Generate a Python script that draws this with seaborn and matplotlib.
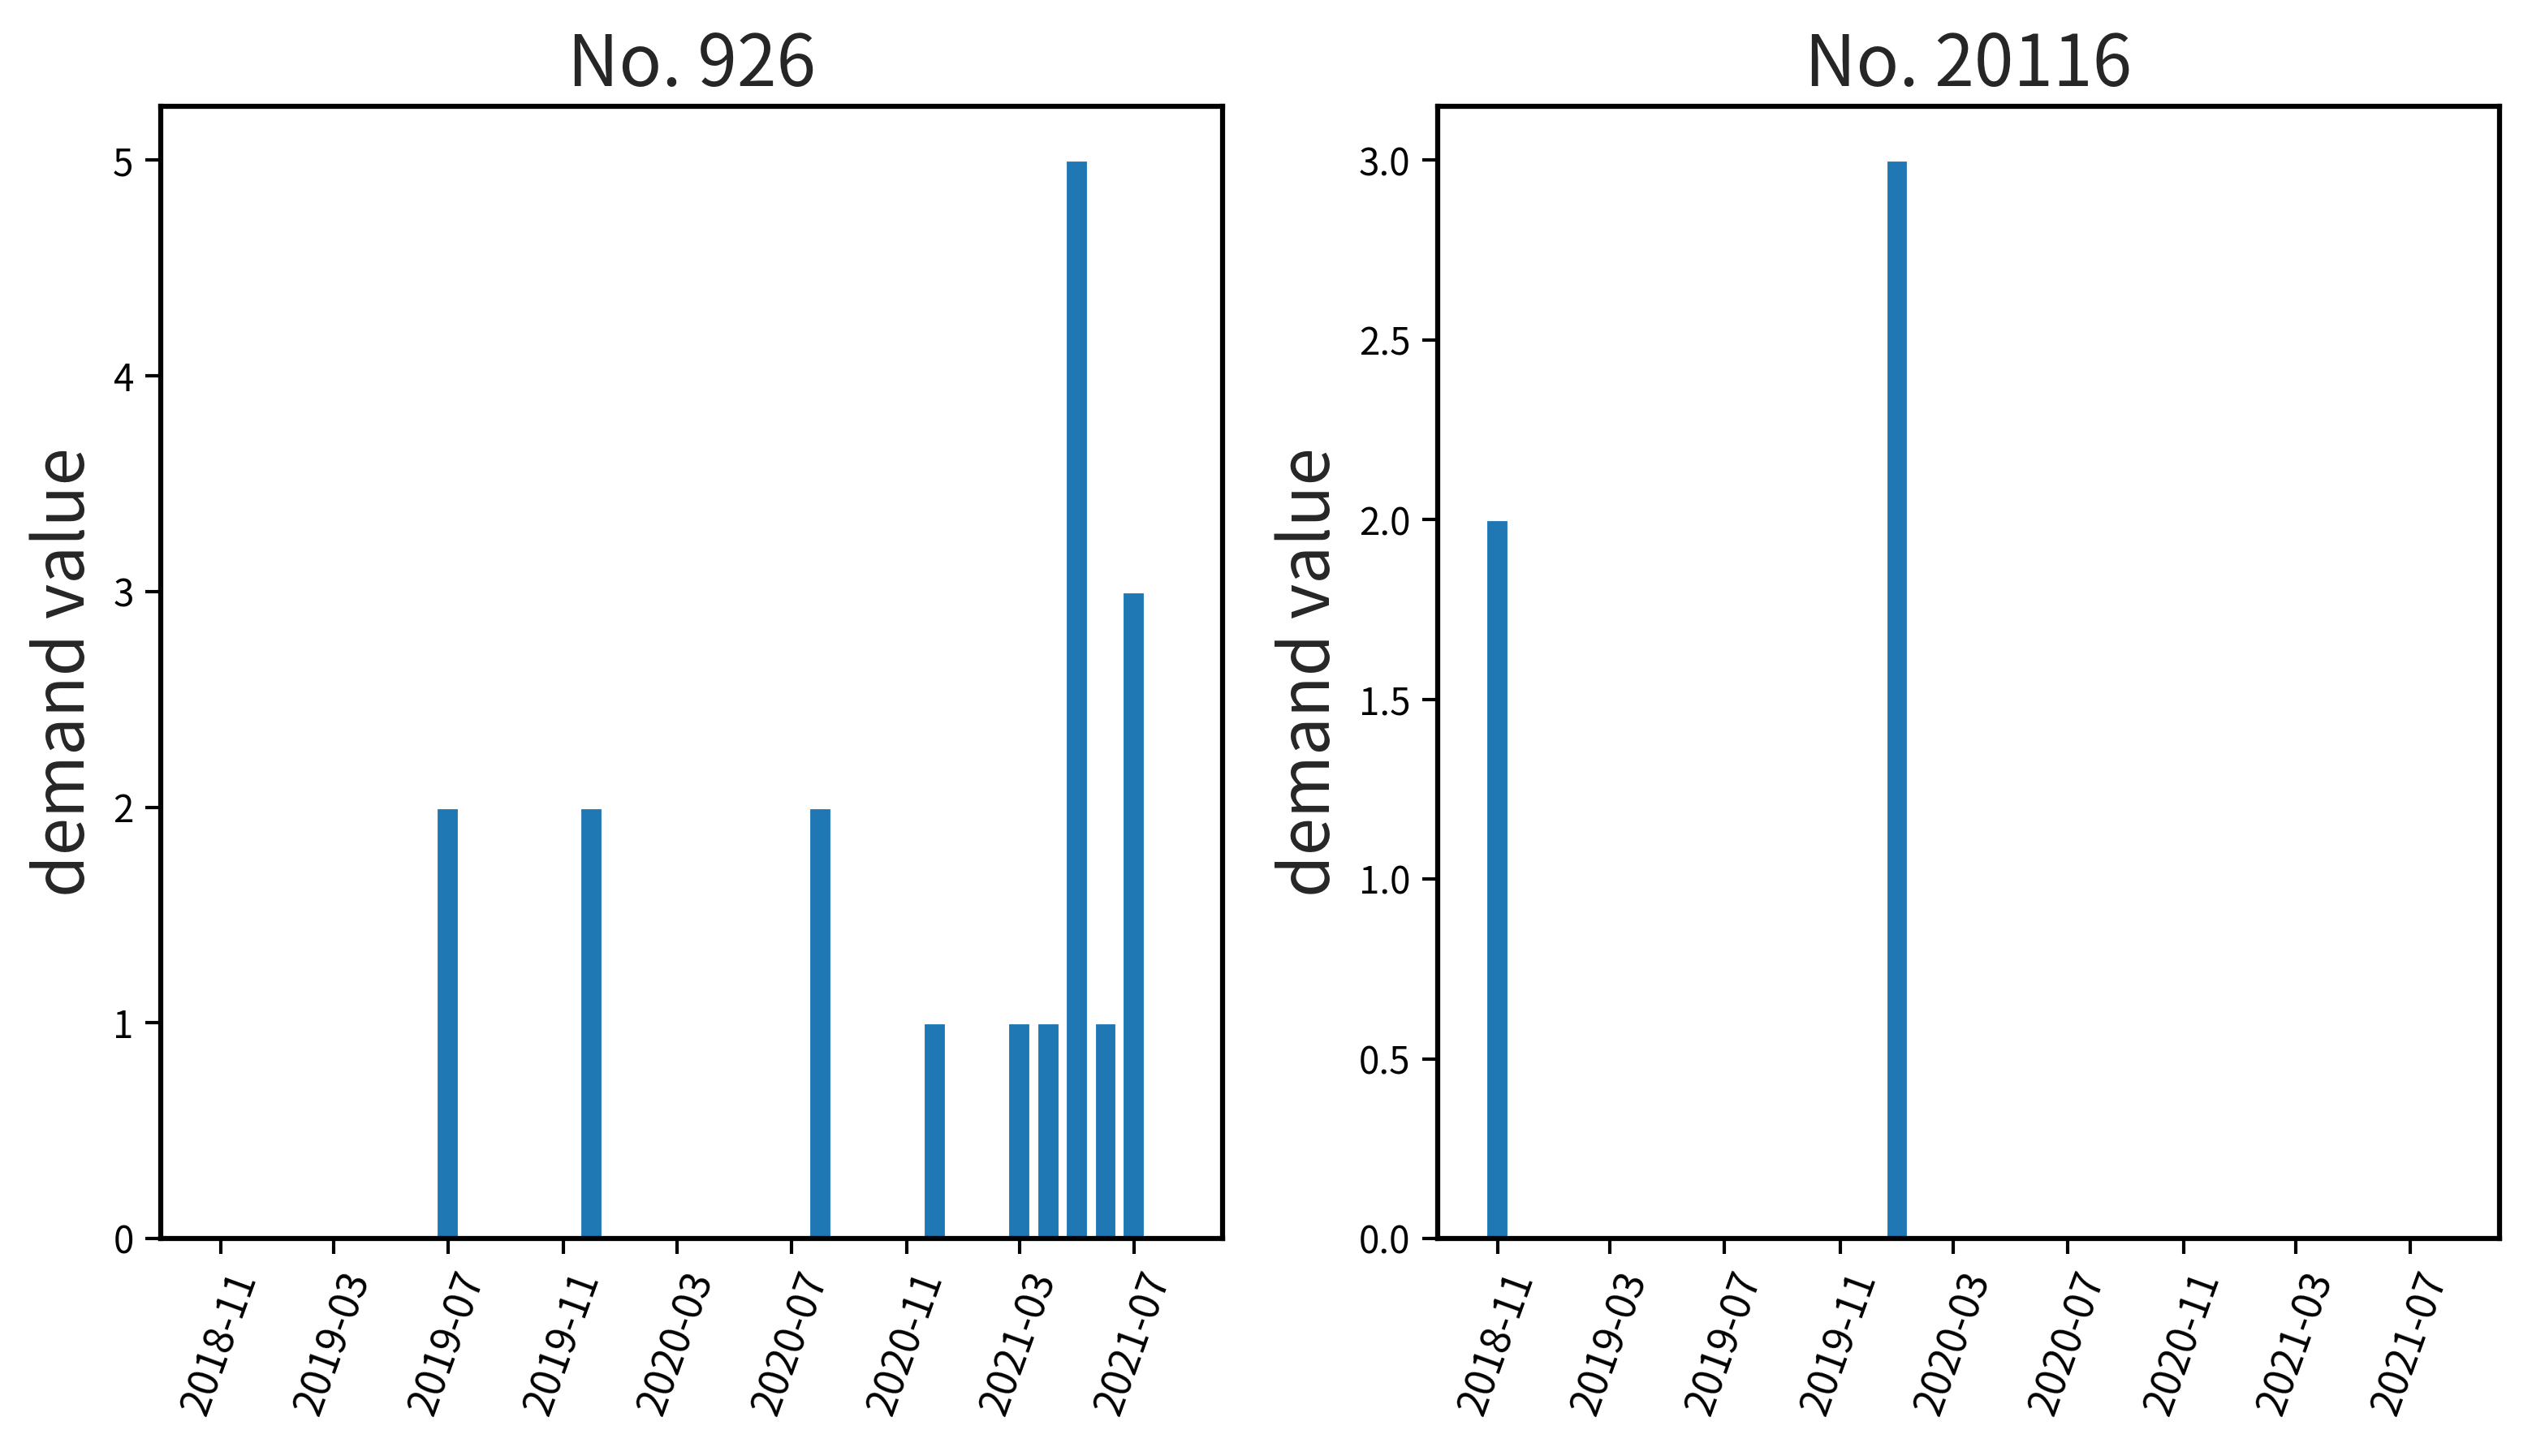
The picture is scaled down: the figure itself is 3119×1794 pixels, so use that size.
import pandas as pd
import matplotlib
matplotlib.use("Agg")
import matplotlib.pyplot as plt
import matplotlib.dates as mdates
import seaborn as sns

# monthly demand, 2018-11 .. 2021-08
months = pd.date_range("2018-11-01", "2021-08-01", freq="MS")

demand_926 = [0, 0,
              0, 0, 0, 0, 0, 0, 2, 0, 0, 0, 0, 2,
              0, 0, 0, 0, 0, 0, 0, 2, 0, 0, 0, 1,
              0, 0, 1, 1, 5, 1, 3, 0]

demand_20116 = [2, 0,
                0, 0, 0, 0, 0, 0, 0, 0, 0, 0, 0, 0,
                3, 0, 0, 0, 0, 0, 0, 0, 0, 0, 0, 0,
                0, 0, 0, 0, 0, 0, 0, 0]

titles = ["No. 926", "No. 20116"]
series = [demand_926, demand_20116]

sns.set_style("ticks")
plt.rcParams["font.family"] = ["Noto Sans CJK SC", "DejaVu Sans"]
plt.rcParams["axes.edgecolor"] = "black"
plt.rcParams["axes.linewidth"] = 1.5
plt.rcParams["xtick.color"] = "black"
plt.rcParams["ytick.color"] = "black"
plt.rcParams["xtick.major.size"] = 4.5
plt.rcParams["ytick.major.size"] = 4.5
plt.rcParams["xtick.major.width"] = 1.0
plt.rcParams["ytick.major.width"] = 1.0
plt.rcParams["xtick.labelsize"] = 12
plt.rcParams["ytick.labelsize"] = 11

fig, axes = plt.subplots(1, 2, figsize=(3119 / 300, 1794 / 300), dpi=300)
fig.subplots_adjust(left=0.0635, right=0.9872, bottom=0.1494, top=0.927, wspace=0.202)

for ax, title, vals in zip(axes, titles, series):
    df = pd.DataFrame({"month": months, "demand": vals})
    ax.bar(df["month"], df["demand"], width=25, color="#1f77b4")
    ax.set_title(title, fontsize=21, fontweight="medium")
    ax.set_ylabel("demand value", fontsize=20, fontweight="medium")
    ax.xaxis.set_major_locator(mdates.MonthLocator(bymonth=[3, 7, 11]))
    ax.xaxis.set_major_formatter(mdates.DateFormatter("%Y-%m"))
    for lbl in ax.get_xticklabels():
        lbl.set_rotation(70)

plt.savefig("out.png", dpi=300)
plt.close()
